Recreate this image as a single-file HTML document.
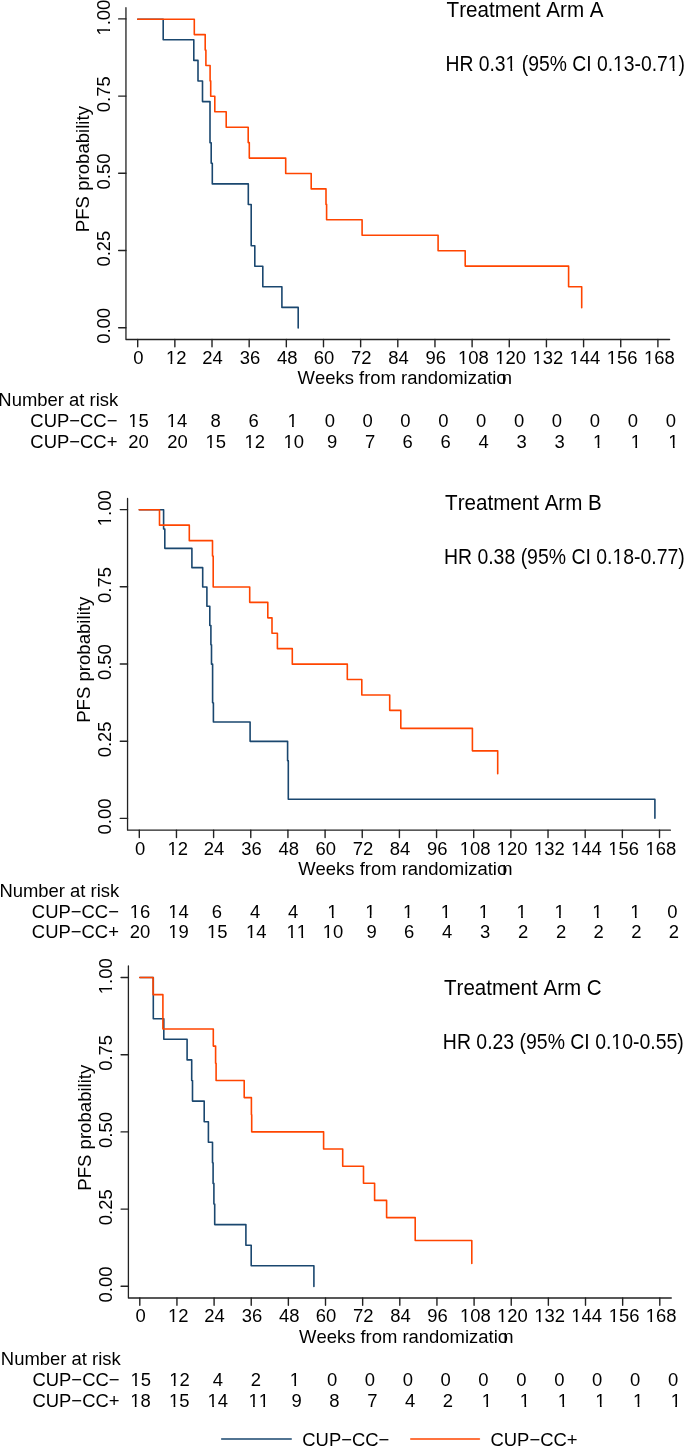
<!DOCTYPE html>
<html><head><meta charset="utf-8"><style>
html,body{margin:0;padding:0;background:#fff;}
svg{display:block;will-change:transform;}
text{font-family:"Liberation Sans",sans-serif;fill:#000;font-kerning:none;font-feature-settings:"kern" 0;}
</style></head><body>
<svg width="685" height="1456" viewBox="0 0 685 1456">
<rect width="685" height="1456" fill="#fff"/>
<path d="M125.95,7.70V339.50H669.60" fill="none" stroke="#222222" stroke-width="1.3" stroke-linejoin="round" stroke-linecap="round"/>
<path d="M118.65,18.90H125.95" fill="none" stroke="#222222" stroke-width="1.4" stroke-linejoin="round" stroke-linecap="round"/>
<g transform="translate(109.90,35.54) rotate(-90)"><text x="0" y="0" font-size="18.45">1.00</text><rect x="0.37" y="-2.40" width="4.21" height="3.69" fill="#fff"/><rect x="6.33" y="-2.40" width="4.34" height="3.69" fill="#fff"/></g>
<path d="M118.65,96.10H125.95" fill="none" stroke="#222222" stroke-width="1.4" stroke-linejoin="round" stroke-linecap="round"/>
<g transform="translate(109.90,112.19) rotate(-90)"><text x="0" y="0" font-size="18.45">0.75</text></g>
<path d="M118.65,173.30H125.95" fill="none" stroke="#222222" stroke-width="1.4" stroke-linejoin="round" stroke-linecap="round"/>
<g transform="translate(109.90,189.39) rotate(-90)"><text x="0" y="0" font-size="18.45">0.50</text></g>
<path d="M118.65,250.50H125.95" fill="none" stroke="#222222" stroke-width="1.4" stroke-linejoin="round" stroke-linecap="round"/>
<g transform="translate(109.90,266.59) rotate(-90)"><text x="0" y="0" font-size="18.45">0.25</text></g>
<path d="M118.65,327.70H125.95" fill="none" stroke="#222222" stroke-width="1.4" stroke-linejoin="round" stroke-linecap="round"/>
<g transform="translate(109.90,343.79) rotate(-90)"><text x="0" y="0" font-size="18.45">0.00</text></g>
<path d="M137.70,339.50V346.80" fill="none" stroke="#222222" stroke-width="1.4" stroke-linejoin="round" stroke-linecap="round"/>
<text x="133.28" y="363.80" font-size="18.45" text-anchor="start" >0</text>
<path d="M174.86,339.50V346.80" fill="none" stroke="#222222" stroke-width="1.4" stroke-linejoin="round" stroke-linecap="round"/>
<text x="165.91" y="363.80" font-size="18.45" text-anchor="start" >12</text><rect x="166.28" y="361.40" width="4.21" height="3.69" fill="#fff"/><rect x="172.24" y="361.40" width="4.34" height="3.69" fill="#fff"/>
<path d="M212.01,339.50V346.80" fill="none" stroke="#222222" stroke-width="1.4" stroke-linejoin="round" stroke-linecap="round"/>
<text x="202.25" y="363.80" font-size="18.45" text-anchor="start" >24</text>
<path d="M249.17,339.50V346.80" fill="none" stroke="#222222" stroke-width="1.4" stroke-linejoin="round" stroke-linecap="round"/>
<text x="239.68" y="363.80" font-size="18.45" text-anchor="start" >36</text>
<path d="M286.33,339.50V346.80" fill="none" stroke="#222222" stroke-width="1.4" stroke-linejoin="round" stroke-linecap="round"/>
<text x="277.02" y="363.80" font-size="18.45" text-anchor="start" >48</text>
<path d="M323.49,339.50V346.80" fill="none" stroke="#222222" stroke-width="1.4" stroke-linejoin="round" stroke-linecap="round"/>
<text x="313.81" y="363.80" font-size="18.45" text-anchor="start" >60</text>
<path d="M360.64,339.50V346.80" fill="none" stroke="#222222" stroke-width="1.4" stroke-linejoin="round" stroke-linecap="round"/>
<text x="351.06" y="363.80" font-size="18.45" text-anchor="start" >72</text>
<path d="M397.80,339.50V346.80" fill="none" stroke="#222222" stroke-width="1.4" stroke-linejoin="round" stroke-linecap="round"/>
<text x="388.13" y="363.80" font-size="18.45" text-anchor="start" >84</text>
<path d="M434.96,339.50V346.80" fill="none" stroke="#222222" stroke-width="1.4" stroke-linejoin="round" stroke-linecap="round"/>
<text x="425.38" y="363.80" font-size="18.45" text-anchor="start" >96</text>
<path d="M472.11,339.50V346.80" fill="none" stroke="#222222" stroke-width="1.4" stroke-linejoin="round" stroke-linecap="round"/>
<text x="458.10" y="363.80" font-size="18.45" text-anchor="start" >108</text><rect x="458.47" y="361.40" width="4.21" height="3.69" fill="#fff"/><rect x="464.43" y="361.40" width="4.34" height="3.69" fill="#fff"/>
<path d="M509.27,339.50V346.80" fill="none" stroke="#222222" stroke-width="1.4" stroke-linejoin="round" stroke-linecap="round"/>
<text x="495.16" y="363.80" font-size="18.45" text-anchor="start" >120</text><rect x="495.53" y="361.40" width="4.21" height="3.69" fill="#fff"/><rect x="501.49" y="361.40" width="4.34" height="3.69" fill="#fff"/>
<path d="M546.43,339.50V346.80" fill="none" stroke="#222222" stroke-width="1.4" stroke-linejoin="round" stroke-linecap="round"/>
<text x="532.41" y="363.80" font-size="18.45" text-anchor="start" >132</text><rect x="532.78" y="361.40" width="4.21" height="3.69" fill="#fff"/><rect x="538.74" y="361.40" width="4.34" height="3.69" fill="#fff"/>
<path d="M583.59,339.50V346.80" fill="none" stroke="#222222" stroke-width="1.4" stroke-linejoin="round" stroke-linecap="round"/>
<text x="569.38" y="363.80" font-size="18.45" text-anchor="start" >144</text><rect x="569.75" y="361.40" width="4.21" height="3.69" fill="#fff"/><rect x="575.71" y="361.40" width="4.34" height="3.69" fill="#fff"/>
<path d="M620.74,339.50V346.80" fill="none" stroke="#222222" stroke-width="1.4" stroke-linejoin="round" stroke-linecap="round"/>
<text x="606.73" y="363.80" font-size="18.45" text-anchor="start" >156</text><rect x="607.09" y="361.40" width="4.21" height="3.69" fill="#fff"/><rect x="613.05" y="361.40" width="4.34" height="3.69" fill="#fff"/>
<path d="M657.90,339.50V346.80" fill="none" stroke="#222222" stroke-width="1.4" stroke-linejoin="round" stroke-linecap="round"/>
<text x="643.88" y="363.80" font-size="18.45" text-anchor="start" >168</text><rect x="644.25" y="361.40" width="4.21" height="3.69" fill="#fff"/><rect x="650.21" y="361.40" width="4.34" height="3.69" fill="#fff"/>
<text transform="translate(89.10,232.15) rotate(-90)" x="0" y="0" font-size="18.6">PFS probability</text>
<text x="297.60" y="383.60" font-size="18.45">Weeks from randomizatio<tspan dx="-4.9">n</tspan></text>
<path d="M137.70,19.20H163.20V39.80H193.80V60.40H198.00V81.00H202.50V101.60H210.00V142.70H211.20V163.30H212.30V183.90H248.30V204.50H251.20V245.70H254.80V266.30H262.80V286.80H281.90V307.40H298.20V328.00" fill="none" stroke="#1a476f" stroke-width="1.6" stroke-linejoin="round" stroke-linecap="round"/>
<path d="M137.70,19.20H194.30V34.60H205.20V50.10H205.90V65.50H210.10V80.90H210.70V96.30H214.80V111.80H226.20V127.20H248.20V142.60H249.30V158.10H285.70V173.50H311.20V188.90H326.00V204.40H326.60V219.80H362.10V235.20H438.10V250.70H465.20V266.10H568.60V286.70H581.70V307.80" fill="none" stroke="#ff4500" stroke-width="1.6" stroke-linejoin="round" stroke-linecap="round"/>
<g transform="translate(447.00,16.90) scale(0.9732,1)"><text x="-0.42" y="0" font-size="21.2">Treatment Arm A</text></g>
<g transform="translate(447.00,70.80) scale(0.9122,1)"><text x="-1.70" y="0" font-size="21.2">HR 0.31 (95% CI 0.13-0.71)</text><rect x="64.71" y="-2.76" width="4.83" height="4.24" fill="#fff"/><rect x="71.55" y="-2.76" width="4.98" height="4.24" fill="#fff"/><rect x="182.53" y="-2.76" width="4.83" height="4.24" fill="#fff"/><rect x="189.38" y="-2.76" width="4.98" height="4.24" fill="#fff"/><rect x="242.64" y="-2.76" width="4.83" height="4.24" fill="#fff"/><rect x="249.48" y="-2.76" width="4.98" height="4.24" fill="#fff"/></g>
<text x="-1.68" y="405.50" font-size="18.45" text-anchor="start" >Number at risk</text>
<text x="30.35" y="426.90" font-size="18.45" text-anchor="start" >CUP−CC−</text>
<text x="30.35" y="447.60" font-size="18.45" text-anchor="start" >CUP−CC+</text>
<text x="128.21" y="426.90" font-size="18.45" text-anchor="start" >15</text><rect x="128.58" y="424.50" width="4.21" height="3.69" fill="#fff"/><rect x="134.54" y="424.50" width="4.34" height="3.69" fill="#fff"/>
<text x="128.28" y="447.60" font-size="18.45" text-anchor="start" >20</text>
<text x="166.67" y="426.90" font-size="18.45" text-anchor="start" >14</text><rect x="167.04" y="424.50" width="4.21" height="3.69" fill="#fff"/><rect x="173.00" y="424.50" width="4.34" height="3.69" fill="#fff"/>
<text x="167.18" y="447.60" font-size="18.45" text-anchor="start" >20</text>
<text x="210.43" y="426.90" font-size="18.45" text-anchor="start" >8</text>
<text x="205.41" y="447.60" font-size="18.45" text-anchor="start" >15</text><rect x="205.78" y="445.20" width="4.21" height="3.69" fill="#fff"/><rect x="211.74" y="445.20" width="4.34" height="3.69" fill="#fff"/>
<text x="248.43" y="426.90" font-size="18.45" text-anchor="start" >6</text>
<text x="244.61" y="447.60" font-size="18.45" text-anchor="start" >12</text><rect x="244.98" y="445.20" width="4.21" height="3.69" fill="#fff"/><rect x="250.94" y="445.20" width="4.34" height="3.69" fill="#fff"/>
<text x="287.44" y="426.90" font-size="18.45" text-anchor="start" >1</text><rect x="287.81" y="424.50" width="4.21" height="3.69" fill="#fff"/><rect x="293.77" y="424.50" width="4.34" height="3.69" fill="#fff"/>
<text x="283.41" y="447.60" font-size="18.45" text-anchor="start" >10</text><rect x="283.78" y="445.20" width="4.21" height="3.69" fill="#fff"/><rect x="289.74" y="445.20" width="4.34" height="3.69" fill="#fff"/>
<text x="324.73" y="426.90" font-size="18.45" text-anchor="start" >0</text>
<text x="326.93" y="447.60" font-size="18.45" text-anchor="start" >9</text>
<text x="362.53" y="426.90" font-size="18.45" text-anchor="start" >0</text>
<text x="364.93" y="447.60" font-size="18.45" text-anchor="start" >7</text>
<text x="400.33" y="426.90" font-size="18.45" text-anchor="start" >0</text>
<text x="402.53" y="447.60" font-size="18.45" text-anchor="start" >6</text>
<text x="438.13" y="426.90" font-size="18.45" text-anchor="start" >0</text>
<text x="440.43" y="447.60" font-size="18.45" text-anchor="start" >6</text>
<text x="476.03" y="426.90" font-size="18.45" text-anchor="start" >0</text>
<text x="478.43" y="447.60" font-size="18.45" text-anchor="start" >4</text>
<text x="513.93" y="426.90" font-size="18.45" text-anchor="start" >0</text>
<text x="516.53" y="447.60" font-size="18.45" text-anchor="start" >3</text>
<text x="551.83" y="426.90" font-size="18.45" text-anchor="start" >0</text>
<text x="554.53" y="447.60" font-size="18.45" text-anchor="start" >3</text>
<text x="589.73" y="426.90" font-size="18.45" text-anchor="start" >0</text>
<text x="593.04" y="447.60" font-size="18.45" text-anchor="start" >1</text><rect x="593.41" y="445.20" width="4.21" height="3.69" fill="#fff"/><rect x="599.37" y="445.20" width="4.34" height="3.69" fill="#fff"/>
<text x="627.73" y="426.90" font-size="18.45" text-anchor="start" >0</text>
<text x="630.74" y="447.60" font-size="18.45" text-anchor="start" >1</text><rect x="631.11" y="445.20" width="4.21" height="3.69" fill="#fff"/><rect x="637.07" y="445.20" width="4.34" height="3.69" fill="#fff"/>
<text x="665.63" y="426.90" font-size="18.45" text-anchor="start" >0</text>
<text x="668.34" y="447.60" font-size="18.45" text-anchor="start" >1</text><rect x="668.71" y="445.20" width="4.21" height="3.69" fill="#fff"/><rect x="674.67" y="445.20" width="4.34" height="3.69" fill="#fff"/>
<path d="M127.55,498.40V830.20H670.40" fill="none" stroke="#222222" stroke-width="1.3" stroke-linejoin="round" stroke-linecap="round"/>
<path d="M120.25,509.60H127.55" fill="none" stroke="#222222" stroke-width="1.4" stroke-linejoin="round" stroke-linecap="round"/>
<g transform="translate(111.40,526.24) rotate(-90)"><text x="0" y="0" font-size="18.45">1.00</text><rect x="0.37" y="-2.40" width="4.21" height="3.69" fill="#fff"/><rect x="6.33" y="-2.40" width="4.34" height="3.69" fill="#fff"/></g>
<path d="M120.25,586.80H127.55" fill="none" stroke="#222222" stroke-width="1.4" stroke-linejoin="round" stroke-linecap="round"/>
<g transform="translate(111.40,602.89) rotate(-90)"><text x="0" y="0" font-size="18.45">0.75</text></g>
<path d="M120.25,664.00H127.55" fill="none" stroke="#222222" stroke-width="1.4" stroke-linejoin="round" stroke-linecap="round"/>
<g transform="translate(111.40,680.09) rotate(-90)"><text x="0" y="0" font-size="18.45">0.50</text></g>
<path d="M120.25,741.20H127.55" fill="none" stroke="#222222" stroke-width="1.4" stroke-linejoin="round" stroke-linecap="round"/>
<g transform="translate(111.40,757.29) rotate(-90)"><text x="0" y="0" font-size="18.45">0.25</text></g>
<path d="M120.25,818.40H127.55" fill="none" stroke="#222222" stroke-width="1.4" stroke-linejoin="round" stroke-linecap="round"/>
<g transform="translate(111.40,834.49) rotate(-90)"><text x="0" y="0" font-size="18.45">0.00</text></g>
<path d="M139.30,830.20V837.50" fill="none" stroke="#222222" stroke-width="1.4" stroke-linejoin="round" stroke-linecap="round"/>
<text x="134.88" y="854.50" font-size="18.45" text-anchor="start" >0</text>
<path d="M176.46,830.20V837.50" fill="none" stroke="#222222" stroke-width="1.4" stroke-linejoin="round" stroke-linecap="round"/>
<text x="167.51" y="854.50" font-size="18.45" text-anchor="start" >12</text><rect x="167.88" y="852.10" width="4.21" height="3.69" fill="#fff"/><rect x="173.84" y="852.10" width="4.34" height="3.69" fill="#fff"/>
<path d="M213.61,830.20V837.50" fill="none" stroke="#222222" stroke-width="1.4" stroke-linejoin="round" stroke-linecap="round"/>
<text x="203.85" y="854.50" font-size="18.45" text-anchor="start" >24</text>
<path d="M250.77,830.20V837.50" fill="none" stroke="#222222" stroke-width="1.4" stroke-linejoin="round" stroke-linecap="round"/>
<text x="241.28" y="854.50" font-size="18.45" text-anchor="start" >36</text>
<path d="M287.93,830.20V837.50" fill="none" stroke="#222222" stroke-width="1.4" stroke-linejoin="round" stroke-linecap="round"/>
<text x="278.62" y="854.50" font-size="18.45" text-anchor="start" >48</text>
<path d="M325.09,830.20V837.50" fill="none" stroke="#222222" stroke-width="1.4" stroke-linejoin="round" stroke-linecap="round"/>
<text x="315.41" y="854.50" font-size="18.45" text-anchor="start" >60</text>
<path d="M362.24,830.20V837.50" fill="none" stroke="#222222" stroke-width="1.4" stroke-linejoin="round" stroke-linecap="round"/>
<text x="352.66" y="854.50" font-size="18.45" text-anchor="start" >72</text>
<path d="M399.40,830.20V837.50" fill="none" stroke="#222222" stroke-width="1.4" stroke-linejoin="round" stroke-linecap="round"/>
<text x="389.73" y="854.50" font-size="18.45" text-anchor="start" >84</text>
<path d="M436.56,830.20V837.50" fill="none" stroke="#222222" stroke-width="1.4" stroke-linejoin="round" stroke-linecap="round"/>
<text x="426.98" y="854.50" font-size="18.45" text-anchor="start" >96</text>
<path d="M473.71,830.20V837.50" fill="none" stroke="#222222" stroke-width="1.4" stroke-linejoin="round" stroke-linecap="round"/>
<text x="459.70" y="854.50" font-size="18.45" text-anchor="start" >108</text><rect x="460.07" y="852.10" width="4.21" height="3.69" fill="#fff"/><rect x="466.03" y="852.10" width="4.34" height="3.69" fill="#fff"/>
<path d="M510.87,830.20V837.50" fill="none" stroke="#222222" stroke-width="1.4" stroke-linejoin="round" stroke-linecap="round"/>
<text x="496.76" y="854.50" font-size="18.45" text-anchor="start" >120</text><rect x="497.13" y="852.10" width="4.21" height="3.69" fill="#fff"/><rect x="503.09" y="852.10" width="4.34" height="3.69" fill="#fff"/>
<path d="M548.03,830.20V837.50" fill="none" stroke="#222222" stroke-width="1.4" stroke-linejoin="round" stroke-linecap="round"/>
<text x="534.01" y="854.50" font-size="18.45" text-anchor="start" >132</text><rect x="534.38" y="852.10" width="4.21" height="3.69" fill="#fff"/><rect x="540.34" y="852.10" width="4.34" height="3.69" fill="#fff"/>
<path d="M585.19,830.20V837.50" fill="none" stroke="#222222" stroke-width="1.4" stroke-linejoin="round" stroke-linecap="round"/>
<text x="570.98" y="854.50" font-size="18.45" text-anchor="start" >144</text><rect x="571.35" y="852.10" width="4.21" height="3.69" fill="#fff"/><rect x="577.31" y="852.10" width="4.34" height="3.69" fill="#fff"/>
<path d="M622.34,830.20V837.50" fill="none" stroke="#222222" stroke-width="1.4" stroke-linejoin="round" stroke-linecap="round"/>
<text x="608.33" y="854.50" font-size="18.45" text-anchor="start" >156</text><rect x="608.69" y="852.10" width="4.21" height="3.69" fill="#fff"/><rect x="614.65" y="852.10" width="4.34" height="3.69" fill="#fff"/>
<path d="M659.50,830.20V837.50" fill="none" stroke="#222222" stroke-width="1.4" stroke-linejoin="round" stroke-linecap="round"/>
<text x="645.48" y="854.50" font-size="18.45" text-anchor="start" >168</text><rect x="645.85" y="852.10" width="4.21" height="3.69" fill="#fff"/><rect x="651.81" y="852.10" width="4.34" height="3.69" fill="#fff"/>
<text transform="translate(89.90,722.85) rotate(-90)" x="0" y="0" font-size="18.6">PFS probability</text>
<text x="298.20" y="875.30" font-size="18.45">Weeks from randomizatio<tspan dx="-4.9">n</tspan></text>
<path d="M139.30,509.75H163.60V529.05H164.80V548.35H191.90V567.65H202.70V586.95H206.90V606.25H209.80V625.55H210.90V644.85H211.50V664.15H212.60V702.75H213.40V722.05H250.10V741.35H287.60V760.65H288.30V799.25H654.90V818.25" fill="none" stroke="#1a476f" stroke-width="1.6" stroke-linejoin="round" stroke-linecap="round"/>
<path d="M139.30,509.75H159.50V525.15H189.30V540.65H212.50V556.05H213.20V586.95H249.70V602.35H267.80V617.85H272.00V633.25H277.40V648.65H292.30V664.15H347.30V679.55H361.80V694.95H389.70V710.35H400.80V728.35H472.40V750.85H497.70V773.75" fill="none" stroke="#ff4500" stroke-width="1.6" stroke-linejoin="round" stroke-linecap="round"/>
<g transform="translate(445.50,510.20) scale(0.9715,1)"><text x="-0.42" y="0" font-size="21.2">Treatment Arm B</text></g>
<g transform="translate(445.50,563.80) scale(0.9172,1)"><text x="-1.70" y="0" font-size="21.2">HR 0.38 (95% CI 0.18-0.77)</text><rect x="182.53" y="-2.76" width="4.83" height="4.24" fill="#fff"/><rect x="189.38" y="-2.76" width="4.98" height="4.24" fill="#fff"/></g>
<text x="-0.58" y="896.80" font-size="18.45" text-anchor="start" >Number at risk</text>
<text x="31.85" y="917.70" font-size="18.45" text-anchor="start" >CUP−CC−</text>
<text x="31.85" y="938.40" font-size="18.45" text-anchor="start" >CUP−CC+</text>
<text x="129.81" y="917.70" font-size="18.45" text-anchor="start" >16</text><rect x="130.18" y="915.30" width="4.21" height="3.69" fill="#fff"/><rect x="136.14" y="915.30" width="4.34" height="3.69" fill="#fff"/>
<text x="129.78" y="938.40" font-size="18.45" text-anchor="start" >20</text>
<text x="168.17" y="917.70" font-size="18.45" text-anchor="start" >14</text><rect x="168.54" y="915.30" width="4.21" height="3.69" fill="#fff"/><rect x="174.50" y="915.30" width="4.34" height="3.69" fill="#fff"/>
<text x="168.31" y="938.40" font-size="18.45" text-anchor="start" >19</text><rect x="168.68" y="936.00" width="4.21" height="3.69" fill="#fff"/><rect x="174.64" y="936.00" width="4.34" height="3.69" fill="#fff"/>
<text x="211.83" y="917.70" font-size="18.45" text-anchor="start" >6</text>
<text x="206.91" y="938.40" font-size="18.45" text-anchor="start" >15</text><rect x="207.28" y="936.00" width="4.21" height="3.69" fill="#fff"/><rect x="213.24" y="936.00" width="4.34" height="3.69" fill="#fff"/>
<text x="250.03" y="917.70" font-size="18.45" text-anchor="start" >4</text>
<text x="245.92" y="938.40" font-size="18.45" text-anchor="start" >14</text><rect x="246.29" y="936.00" width="4.21" height="3.69" fill="#fff"/><rect x="252.25" y="936.00" width="4.34" height="3.69" fill="#fff"/>
<text x="287.93" y="917.70" font-size="18.45" text-anchor="start" >4</text>
<text x="286.57" y="938.40" font-size="18.45" text-anchor="start" >11</text><rect x="286.94" y="936.00" width="4.21" height="3.69" fill="#fff"/><rect x="292.90" y="936.00" width="4.34" height="3.69" fill="#fff"/><rect x="297.20" y="936.00" width="4.21" height="3.69" fill="#fff"/><rect x="303.16" y="936.00" width="4.34" height="3.69" fill="#fff"/>
<text x="327.34" y="917.70" font-size="18.45" text-anchor="start" >1</text><rect x="327.71" y="915.30" width="4.21" height="3.69" fill="#fff"/><rect x="333.67" y="915.30" width="4.34" height="3.69" fill="#fff"/>
<text x="322.71" y="938.40" font-size="18.45" text-anchor="start" >10</text><rect x="323.08" y="936.00" width="4.21" height="3.69" fill="#fff"/><rect x="329.04" y="936.00" width="4.34" height="3.69" fill="#fff"/>
<text x="365.14" y="917.70" font-size="18.45" text-anchor="start" >1</text><rect x="365.51" y="915.30" width="4.21" height="3.69" fill="#fff"/><rect x="371.47" y="915.30" width="4.34" height="3.69" fill="#fff"/>
<text x="366.43" y="938.40" font-size="18.45" text-anchor="start" >9</text>
<text x="402.94" y="917.70" font-size="18.45" text-anchor="start" >1</text><rect x="403.31" y="915.30" width="4.21" height="3.69" fill="#fff"/><rect x="409.27" y="915.30" width="4.34" height="3.69" fill="#fff"/>
<text x="404.03" y="938.40" font-size="18.45" text-anchor="start" >6</text>
<text x="440.74" y="917.70" font-size="18.45" text-anchor="start" >1</text><rect x="441.11" y="915.30" width="4.21" height="3.69" fill="#fff"/><rect x="447.07" y="915.30" width="4.34" height="3.69" fill="#fff"/>
<text x="442.03" y="938.40" font-size="18.45" text-anchor="start" >4</text>
<text x="478.64" y="917.70" font-size="18.45" text-anchor="start" >1</text><rect x="479.01" y="915.30" width="4.21" height="3.69" fill="#fff"/><rect x="484.97" y="915.30" width="4.34" height="3.69" fill="#fff"/>
<text x="479.93" y="938.40" font-size="18.45" text-anchor="start" >3</text>
<text x="516.54" y="917.70" font-size="18.45" text-anchor="start" >1</text><rect x="516.91" y="915.30" width="4.21" height="3.69" fill="#fff"/><rect x="522.87" y="915.30" width="4.34" height="3.69" fill="#fff"/>
<text x="517.93" y="938.40" font-size="18.45" text-anchor="start" >2</text>
<text x="554.44" y="917.70" font-size="18.45" text-anchor="start" >1</text><rect x="554.81" y="915.30" width="4.21" height="3.69" fill="#fff"/><rect x="560.77" y="915.30" width="4.34" height="3.69" fill="#fff"/>
<text x="555.93" y="938.40" font-size="18.45" text-anchor="start" >2</text>
<text x="592.34" y="917.70" font-size="18.45" text-anchor="start" >1</text><rect x="592.71" y="915.30" width="4.21" height="3.69" fill="#fff"/><rect x="598.67" y="915.30" width="4.34" height="3.69" fill="#fff"/>
<text x="593.43" y="938.40" font-size="18.45" text-anchor="start" >2</text>
<text x="630.34" y="917.70" font-size="18.45" text-anchor="start" >1</text><rect x="630.71" y="915.30" width="4.21" height="3.69" fill="#fff"/><rect x="636.67" y="915.30" width="4.34" height="3.69" fill="#fff"/>
<text x="631.13" y="938.40" font-size="18.45" text-anchor="start" >2</text>
<text x="667.13" y="917.70" font-size="18.45" text-anchor="start" >0</text>
<text x="668.73" y="938.40" font-size="18.45" text-anchor="start" >2</text>
<path d="M128.40,966.00V1298.00H671.30" fill="none" stroke="#222222" stroke-width="1.3" stroke-linejoin="round" stroke-linecap="round"/>
<path d="M121.10,977.50H128.40" fill="none" stroke="#222222" stroke-width="1.4" stroke-linejoin="round" stroke-linecap="round"/>
<g transform="translate(111.90,994.14) rotate(-90)"><text x="0" y="0" font-size="18.45">1.00</text><rect x="0.37" y="-2.40" width="4.21" height="3.69" fill="#fff"/><rect x="6.33" y="-2.40" width="4.34" height="3.69" fill="#fff"/></g>
<path d="M121.10,1054.70H128.40" fill="none" stroke="#222222" stroke-width="1.4" stroke-linejoin="round" stroke-linecap="round"/>
<g transform="translate(111.90,1070.79) rotate(-90)"><text x="0" y="0" font-size="18.45">0.75</text></g>
<path d="M121.10,1131.90H128.40" fill="none" stroke="#222222" stroke-width="1.4" stroke-linejoin="round" stroke-linecap="round"/>
<g transform="translate(111.90,1147.99) rotate(-90)"><text x="0" y="0" font-size="18.45">0.50</text></g>
<path d="M121.10,1209.10H128.40" fill="none" stroke="#222222" stroke-width="1.4" stroke-linejoin="round" stroke-linecap="round"/>
<g transform="translate(111.90,1225.19) rotate(-90)"><text x="0" y="0" font-size="18.45">0.25</text></g>
<path d="M121.10,1286.30H128.40" fill="none" stroke="#222222" stroke-width="1.4" stroke-linejoin="round" stroke-linecap="round"/>
<g transform="translate(111.90,1302.39) rotate(-90)"><text x="0" y="0" font-size="18.45">0.00</text></g>
<path d="M139.80,1298.00V1305.30" fill="none" stroke="#222222" stroke-width="1.4" stroke-linejoin="round" stroke-linecap="round"/>
<text x="135.38" y="1322.30" font-size="18.45" text-anchor="start" >0</text>
<path d="M176.94,1298.00V1305.30" fill="none" stroke="#222222" stroke-width="1.4" stroke-linejoin="round" stroke-linecap="round"/>
<text x="168.00" y="1322.30" font-size="18.45" text-anchor="start" >12</text><rect x="168.37" y="1319.90" width="4.21" height="3.69" fill="#fff"/><rect x="174.33" y="1319.90" width="4.34" height="3.69" fill="#fff"/>
<path d="M214.09,1298.00V1305.30" fill="none" stroke="#222222" stroke-width="1.4" stroke-linejoin="round" stroke-linecap="round"/>
<text x="204.32" y="1322.30" font-size="18.45" text-anchor="start" >24</text>
<path d="M251.23,1298.00V1305.30" fill="none" stroke="#222222" stroke-width="1.4" stroke-linejoin="round" stroke-linecap="round"/>
<text x="241.74" y="1322.30" font-size="18.45" text-anchor="start" >36</text>
<path d="M288.37,1298.00V1305.30" fill="none" stroke="#222222" stroke-width="1.4" stroke-linejoin="round" stroke-linecap="round"/>
<text x="279.07" y="1322.30" font-size="18.45" text-anchor="start" >48</text>
<path d="M325.51,1298.00V1305.30" fill="none" stroke="#222222" stroke-width="1.4" stroke-linejoin="round" stroke-linecap="round"/>
<text x="315.84" y="1322.30" font-size="18.45" text-anchor="start" >60</text>
<path d="M362.66,1298.00V1305.30" fill="none" stroke="#222222" stroke-width="1.4" stroke-linejoin="round" stroke-linecap="round"/>
<text x="353.08" y="1322.30" font-size="18.45" text-anchor="start" >72</text>
<path d="M399.80,1298.00V1305.30" fill="none" stroke="#222222" stroke-width="1.4" stroke-linejoin="round" stroke-linecap="round"/>
<text x="390.13" y="1322.30" font-size="18.45" text-anchor="start" >84</text>
<path d="M436.94,1298.00V1305.30" fill="none" stroke="#222222" stroke-width="1.4" stroke-linejoin="round" stroke-linecap="round"/>
<text x="427.36" y="1322.30" font-size="18.45" text-anchor="start" >96</text>
<path d="M474.09,1298.00V1305.30" fill="none" stroke="#222222" stroke-width="1.4" stroke-linejoin="round" stroke-linecap="round"/>
<text x="460.07" y="1322.30" font-size="18.45" text-anchor="start" >108</text><rect x="460.44" y="1319.90" width="4.21" height="3.69" fill="#fff"/><rect x="466.40" y="1319.90" width="4.34" height="3.69" fill="#fff"/>
<path d="M511.23,1298.00V1305.30" fill="none" stroke="#222222" stroke-width="1.4" stroke-linejoin="round" stroke-linecap="round"/>
<text x="497.12" y="1322.30" font-size="18.45" text-anchor="start" >120</text><rect x="497.49" y="1319.90" width="4.21" height="3.69" fill="#fff"/><rect x="503.45" y="1319.90" width="4.34" height="3.69" fill="#fff"/>
<path d="M548.37,1298.00V1305.30" fill="none" stroke="#222222" stroke-width="1.4" stroke-linejoin="round" stroke-linecap="round"/>
<text x="534.35" y="1322.30" font-size="18.45" text-anchor="start" >132</text><rect x="534.72" y="1319.90" width="4.21" height="3.69" fill="#fff"/><rect x="540.68" y="1319.90" width="4.34" height="3.69" fill="#fff"/>
<path d="M585.51,1298.00V1305.30" fill="none" stroke="#222222" stroke-width="1.4" stroke-linejoin="round" stroke-linecap="round"/>
<text x="571.31" y="1322.30" font-size="18.45" text-anchor="start" >144</text><rect x="571.68" y="1319.90" width="4.21" height="3.69" fill="#fff"/><rect x="577.64" y="1319.90" width="4.34" height="3.69" fill="#fff"/>
<path d="M622.66,1298.00V1305.30" fill="none" stroke="#222222" stroke-width="1.4" stroke-linejoin="round" stroke-linecap="round"/>
<text x="608.64" y="1322.30" font-size="18.45" text-anchor="start" >156</text><rect x="609.01" y="1319.90" width="4.21" height="3.69" fill="#fff"/><rect x="614.97" y="1319.90" width="4.34" height="3.69" fill="#fff"/>
<path d="M659.80,1298.00V1305.30" fill="none" stroke="#222222" stroke-width="1.4" stroke-linejoin="round" stroke-linecap="round"/>
<text x="645.78" y="1322.30" font-size="18.45" text-anchor="start" >168</text><rect x="646.15" y="1319.90" width="4.21" height="3.69" fill="#fff"/><rect x="652.11" y="1319.90" width="4.34" height="3.69" fill="#fff"/>
<text transform="translate(91.30,1190.75) rotate(-90)" x="0" y="0" font-size="18.6">PFS probability</text>
<text x="299.00" y="1343.00" font-size="18.45">Weeks from randomizatio<tspan dx="-4.9">n</tspan></text>
<path d="M139.80,977.50H153.30V1018.70H163.80V1039.30H187.10V1059.90H191.70V1080.50H192.50V1101.10H204.20V1121.70H208.40V1142.20H212.50V1162.80H213.10V1183.40H213.90V1204.00H214.70V1224.60H245.90V1245.20H251.20V1265.80H313.90V1286.40" fill="none" stroke="#1a476f" stroke-width="1.6" stroke-linejoin="round" stroke-linecap="round"/>
<path d="M139.80,977.50H153.10V994.65H162.90V1028.95H213.30V1046.10H215.60V1063.30H216.10V1080.50H244.20V1097.60H251.40V1114.70H251.70V1131.85H323.60V1149.00H342.70V1166.20H363.50V1183.30H374.60V1200.40H386.60V1217.60H415.20V1240.50H471.80V1263.40" fill="none" stroke="#ff4500" stroke-width="1.6" stroke-linejoin="round" stroke-linecap="round"/>
<g transform="translate(444.40,994.50) scale(0.9707,1)"><text x="-0.42" y="0" font-size="21.2">Treatment Arm C</text></g>
<g transform="translate(444.40,1048.60) scale(0.9176,1)"><text x="-1.70" y="0" font-size="21.2">HR 0.23 (95% CI 0.10-0.55)</text><rect x="182.53" y="-2.76" width="4.83" height="4.24" fill="#fff"/><rect x="189.38" y="-2.76" width="4.98" height="4.24" fill="#fff"/></g>
<text x="0.82" y="1364.50" font-size="18.45" text-anchor="start" >Number at risk</text>
<text x="32.45" y="1385.90" font-size="18.45" text-anchor="start" >CUP−CC−</text>
<text x="32.45" y="1406.60" font-size="18.45" text-anchor="start" >CUP−CC+</text>
<text x="130.51" y="1385.90" font-size="18.45" text-anchor="start" >15</text><rect x="130.88" y="1383.50" width="4.21" height="3.69" fill="#fff"/><rect x="136.84" y="1383.50" width="4.34" height="3.69" fill="#fff"/>
<text x="130.21" y="1406.60" font-size="18.45" text-anchor="start" >18</text><rect x="130.58" y="1404.20" width="4.21" height="3.69" fill="#fff"/><rect x="136.54" y="1404.20" width="4.34" height="3.69" fill="#fff"/>
<text x="169.16" y="1385.90" font-size="18.45" text-anchor="start" >12</text><rect x="169.53" y="1383.50" width="4.21" height="3.69" fill="#fff"/><rect x="175.49" y="1383.50" width="4.34" height="3.69" fill="#fff"/>
<text x="169.01" y="1406.60" font-size="18.45" text-anchor="start" >15</text><rect x="169.38" y="1404.20" width="4.21" height="3.69" fill="#fff"/><rect x="175.34" y="1404.20" width="4.34" height="3.69" fill="#fff"/>
<text x="212.73" y="1385.90" font-size="18.45" text-anchor="start" >4</text>
<text x="207.62" y="1406.60" font-size="18.45" text-anchor="start" >14</text><rect x="207.99" y="1404.20" width="4.21" height="3.69" fill="#fff"/><rect x="213.95" y="1404.20" width="4.34" height="3.69" fill="#fff"/>
<text x="250.73" y="1385.90" font-size="18.45" text-anchor="start" >2</text>
<text x="248.47" y="1406.60" font-size="18.45" text-anchor="start" >11</text><rect x="248.84" y="1404.20" width="4.21" height="3.69" fill="#fff"/><rect x="254.80" y="1404.20" width="4.34" height="3.69" fill="#fff"/><rect x="259.10" y="1404.20" width="4.21" height="3.69" fill="#fff"/><rect x="265.06" y="1404.20" width="4.34" height="3.69" fill="#fff"/>
<text x="289.74" y="1385.90" font-size="18.45" text-anchor="start" >1</text><rect x="290.11" y="1383.50" width="4.21" height="3.69" fill="#fff"/><rect x="296.07" y="1383.50" width="4.34" height="3.69" fill="#fff"/>
<text x="291.43" y="1406.60" font-size="18.45" text-anchor="start" >9</text>
<text x="327.03" y="1385.90" font-size="18.45" text-anchor="start" >0</text>
<text x="329.33" y="1406.60" font-size="18.45" text-anchor="start" >8</text>
<text x="364.83" y="1385.90" font-size="18.45" text-anchor="start" >0</text>
<text x="367.23" y="1406.60" font-size="18.45" text-anchor="start" >7</text>
<text x="402.63" y="1385.90" font-size="18.45" text-anchor="start" >0</text>
<text x="404.93" y="1406.60" font-size="18.45" text-anchor="start" >4</text>
<text x="440.43" y="1385.90" font-size="18.45" text-anchor="start" >0</text>
<text x="442.73" y="1406.60" font-size="18.45" text-anchor="start" >2</text>
<text x="478.33" y="1385.90" font-size="18.45" text-anchor="start" >0</text>
<text x="481.74" y="1406.60" font-size="18.45" text-anchor="start" >1</text><rect x="482.11" y="1404.20" width="4.21" height="3.69" fill="#fff"/><rect x="488.07" y="1404.20" width="4.34" height="3.69" fill="#fff"/>
<text x="516.23" y="1385.90" font-size="18.45" text-anchor="start" >0</text>
<text x="519.84" y="1406.60" font-size="18.45" text-anchor="start" >1</text><rect x="520.21" y="1404.20" width="4.21" height="3.69" fill="#fff"/><rect x="526.17" y="1404.20" width="4.34" height="3.69" fill="#fff"/>
<text x="554.13" y="1385.90" font-size="18.45" text-anchor="start" >0</text>
<text x="557.84" y="1406.60" font-size="18.45" text-anchor="start" >1</text><rect x="558.21" y="1404.20" width="4.21" height="3.69" fill="#fff"/><rect x="564.17" y="1404.20" width="4.34" height="3.69" fill="#fff"/>
<text x="592.03" y="1385.90" font-size="18.45" text-anchor="start" >0</text>
<text x="595.34" y="1406.60" font-size="18.45" text-anchor="start" >1</text><rect x="595.71" y="1404.20" width="4.21" height="3.69" fill="#fff"/><rect x="601.67" y="1404.20" width="4.34" height="3.69" fill="#fff"/>
<text x="630.03" y="1385.90" font-size="18.45" text-anchor="start" >0</text>
<text x="633.04" y="1406.60" font-size="18.45" text-anchor="start" >1</text><rect x="633.41" y="1404.20" width="4.21" height="3.69" fill="#fff"/><rect x="639.37" y="1404.20" width="4.34" height="3.69" fill="#fff"/>
<text x="667.93" y="1385.90" font-size="18.45" text-anchor="start" >0</text>
<text x="670.64" y="1406.60" font-size="18.45" text-anchor="start" >1</text><rect x="671.01" y="1404.20" width="4.21" height="3.69" fill="#fff"/><rect x="676.97" y="1404.20" width="4.34" height="3.69" fill="#fff"/>
<path d="M221.7,1439H291.2" fill="none" stroke="#1a476f" stroke-width="1.6" stroke-linejoin="round" stroke-linecap="round"/>
<path d="M410.8,1439H479.4" fill="none" stroke="#ff4500" stroke-width="1.6" stroke-linejoin="round" stroke-linecap="round"/>
<text x="302.28" y="1445.60" font-size="18.45" text-anchor="start" >CUP−CC−</text>
<text x="490.48" y="1445.60" font-size="18.45" text-anchor="start" >CUP−CC+</text>
</svg>
</body></html>
